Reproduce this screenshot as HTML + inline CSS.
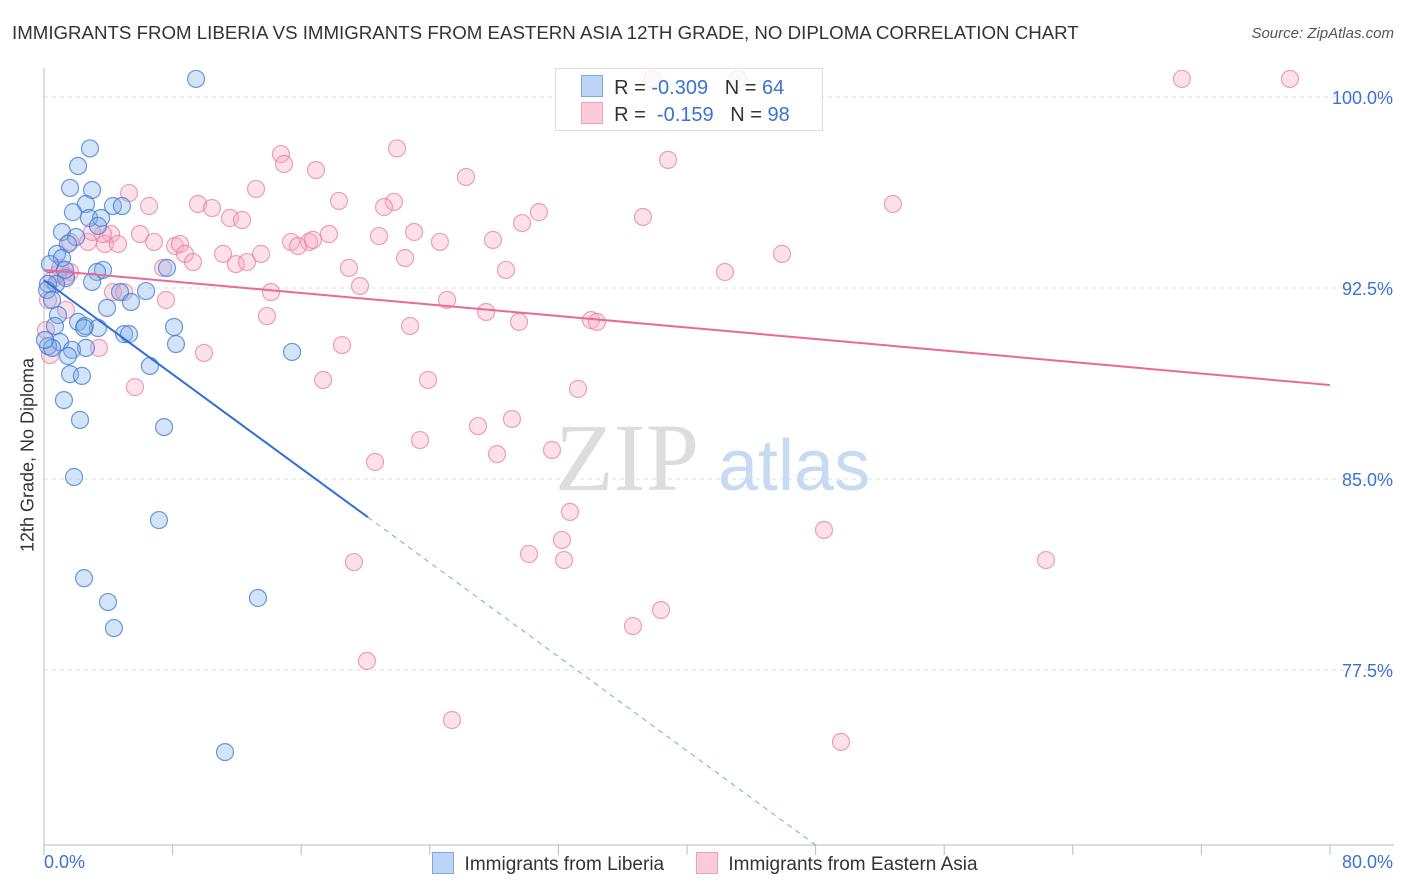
<!DOCTYPE html>
<html><head><meta charset="utf-8"><style>
body{margin:0;background:#fff;font-family:"Liberation Sans",sans-serif}
#c{position:relative;width:1406px;height:892px;overflow:hidden}
</style></head><body>
<div id="c">
<div style="position:absolute;left:12px;top:22px;font-size:18.7px;color:#333">IMMIGRANTS FROM LIBERIA VS IMMIGRANTS FROM EASTERN ASIA 12TH GRADE, NO DIPLOMA CORRELATION CHART</div>
<div style="position:absolute;right:12px;top:25px;font-size:15px;color:#555;font-style:italic">Source: ZipAtlas.com</div>
<svg id="s" width="1406" height="892" style="position:absolute;left:0;top:0"></svg>
</div>
<script>
const blueX=[9.46,2.86,2.12,1.62,2.99,2.61,4.29,4.85,1.80,2.80,3.55,3.36,1.12,1.99,1.49,0.81,1.12,0.37,3.67,3.30,7.65,2.99,1.37,0.75,0.25,6.35,4.73,5.41,3.92,0.87,2.12,2.55,3.36,2.49,0.68,8.09,4.98,5.29,8.21,1.00,2.61,1.74,0.25,0.50,15.43,1.49,6.59,1.62,2.36,1.24,2.24,7.47,1.87,7.15,2.49,13.31,3.98,4.35,11.26,0.06,0.19,0.50,1.31];
const blueY=[100.71,97.98,97.29,96.43,96.35,95.80,95.72,95.72,95.48,95.25,95.25,94.94,94.70,94.50,94.23,93.84,93.68,93.44,93.21,93.13,93.29,92.74,92.89,92.66,92.66,92.38,92.34,91.95,91.72,91.44,91.17,91.01,90.93,90.93,91.01,90.97,90.69,90.69,90.30,90.38,90.15,90.07,90.22,90.15,89.99,89.83,89.44,89.12,89.05,88.10,87.32,87.04,85.08,83.39,81.11,80.33,80.17,79.15,74.28,90.46,92.42,92.03,93.21];
const pinkX=[37.82,43.17,70.79,77.51,21.96,14.74,38.82,14.93,16.92,26.25,13.19,5.29,6.53,18.35,21.77,21.15,9.58,10.45,30.79,11.57,12.32,37.26,29.74,52.81,23.02,5.97,4.17,6.84,8.15,8.46,8.77,3.79,4.60,2.74,3.67,1.62,2.99,15.37,16.49,15.80,16.73,17.73,24.63,20.84,27.93,13.50,11.14,11.94,9.27,12.63,22.46,7.40,18.97,28.74,42.36,45.91,1.62,0.87,1.37,4.29,4.98,14.12,19.66,7.59,25.07,27.50,13.87,22.77,29.55,34.03,34.40,18.54,3.42,9.95,17.36,23.89,5.66,33.22,27.00,29.11,23.39,28.18,31.60,20.59,32.72,48.52,32.22,30.17,32.35,62.33,19.28,38.38,36.64,20.09,25.38,49.58,0.37,0.25,0.50,1.00,1.37,0.12];
const pinkY=[100.71,100.71,100.71,100.71,97.98,97.76,97.53,97.37,97.13,96.86,96.39,96.23,95.72,95.92,95.88,95.68,95.80,95.64,95.48,95.25,95.17,95.29,95.05,95.80,94.70,94.62,94.62,94.31,94.15,94.23,93.84,94.23,94.23,94.31,94.62,94.31,94.70,94.31,94.31,94.15,94.39,94.62,94.31,94.54,94.39,93.84,93.84,93.44,93.52,93.52,93.68,93.29,93.29,93.21,93.13,93.84,93.13,93.05,92.97,92.34,92.34,92.34,92.58,92.03,92.03,91.56,91.40,91.01,91.17,91.24,91.17,90.26,90.15,89.95,88.89,88.89,88.61,88.54,87.08,87.36,86.53,85.98,86.14,85.67,83.71,83.00,82.61,82.06,81.82,81.82,81.74,79.86,79.23,77.86,75.54,74.68,89.87,92.03,92.81,93.29,91.64,90.85];
const blueTrend=[92.81,-0.462];
const pinkTrend=[93.21,-0.0565];
const yTicks=[100,92.5,85,77.5];
const yTickLabels=["100.0%","92.5%","85.0%","77.5%"];
const NS="http://www.w3.org/2000/svg";
const s=document.getElementById('s');
const X=v=>44+v*1286/80, Y=v=>97+(100-v)*25.47;
function el(t,a){const e=document.createElementNS(NS,t);for(const k in a)e.setAttribute(k,a[k]);s.appendChild(e);return e;}
yTicks.forEach((t,i)=>{
 const g=el('line',{x1:44,x2:1394,y1:Y(t),y2:Y(t),stroke:'#ddd','stroke-dasharray':'4,4'});
 
 
 const l=el('text',{x:1393,y:Y(t)+7,'text-anchor':'end','font-size':18,fill:'#3b73d1','font-family':'Liberation Sans'});
 l.textContent=yTickLabels[i];
 
 
});
let a=el('line',{x1:44,x2:44,y1:68,y2:845,stroke:'#bbb'});

a=el('line',{x1:44,x2:1394,y1:845,y2:845,stroke:'#bbb'});

for(let i=0;i<=10;i++){const t=el('line',{x1:X(i*8),x2:X(i*8),y1:845,y2:855,stroke:'#bbb'});
 
 }
let w=el('text',{x:555,y:490,'font-size':96,fill:'#ddd','font-family':'Liberation Serif'});w.textContent='ZIP';

w=el('text',{x:718,y:490,'font-size':72,fill:'#c8daf2','font-family':'Liberation Sans'});w.textContent='atlas';

function pts(xs,ys,fill,stroke,name){xs.forEach((x,i)=>{const c=el('circle',{cx:X(x),cy:Y(ys[i]),r:8.5,fill:fill,stroke:stroke,'stroke-width':1.2});
 
 });}
pts(pinkX,pinkY,'rgba(248,170,195,0.35)','rgba(232,120,160,0.7)','eastern-asia-point');
pts(blueX,blueY,'rgba(130,175,235,0.35)','rgba(60,120,210,0.75)','liberia-point');
let t=el('line',{x1:X(0),y1:Y(pinkTrend[0]),x2:X(80),y2:Y(pinkTrend[0]+pinkTrend[1]*80),stroke:'#e8699a','stroke-width':2});

t=el('line',{x1:X(0),y1:Y(blueTrend[0]),x2:X(20.15),y2:Y(blueTrend[0]+blueTrend[1]*20.15),stroke:'#2f6fd6','stroke-width':2});

const yEnd=70.6;
const xe=(blueTrend[0]-yEnd)/-blueTrend[1];
t=el('line',{x1:X(20.15),y1:Y(blueTrend[0]+blueTrend[1]*20.15),x2:X(xe),y2:Y(yEnd),stroke:'#7aa3e0','stroke-width':1,'stroke-dasharray':'5,5'});

</script>
<div style="position:absolute;left:555px;top:68px;width:266px;height:61px;border:1px solid #ddd;background:rgba(255,255,255,0.8);font-size:20px;color:#333">
 <div style="position:absolute;left:25px;top:6px;white-space:pre"><span style="display:inline-block;width:20px;height:20px;background:#bcd4f5;border:1px solid #7ea9e6;vertical-align:-3px"></span>  R = <span style="color:#3b73d1">-0.309</span>   N = <span style="color:#3b73d1">64</span></div>
 <div style="position:absolute;left:25px;top:33px;white-space:pre"><span style="display:inline-block;width:20px;height:20px;background:#fbcadb;border:1px solid #f0a0bd;vertical-align:-3px"></span>  R =  <span style="color:#3b73d1">-0.159</span>   N = <span style="color:#3b73d1">98</span></div>
</div>
<div style="position:absolute;left:28px;top:455px;transform:translate(-50%,-50%) rotate(-90deg);font-size:18px;color:#333;white-space:nowrap">12th Grade, No Diploma</div>
<div style="position:absolute;left:44px;top:852px;font-size:18px;color:#3b73d1">0.0%</div>
<div style="position:absolute;right:13px;top:852px;font-size:18px;color:#3b73d1">80.0%</div>
<div style="position:absolute;left:432px;top:852px;font-size:19px;color:#333;white-space:pre"><span><span style="display:inline-block;width:20px;height:20px;background:#bcd4f5;border:1px solid #7ea9e6;vertical-align:-4px"></span>  Immigrants from Liberia</span>      <span><span style="display:inline-block;width:20px;height:20px;background:#fbcadb;border:1px solid #f0a0bd;vertical-align:-4px"></span>  Immigrants from Eastern Asia</span></div>
</body></html>
